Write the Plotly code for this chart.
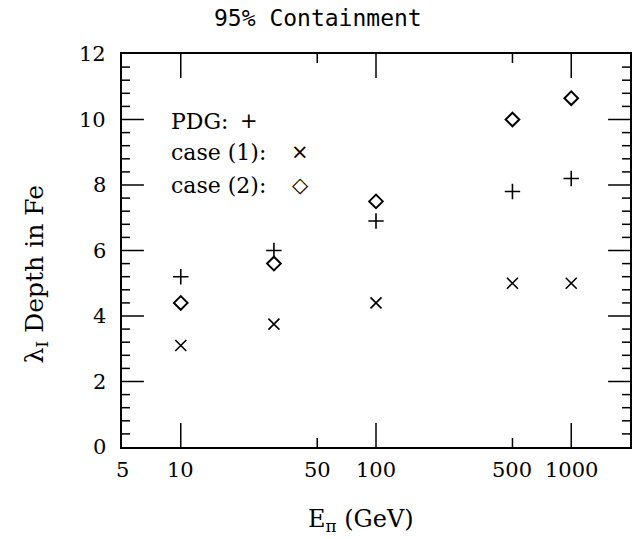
import math
import plotly.graph_objects as go

energy = [10, 30, 100, 500, 1000]
pdg = [5.2, 6.0, 6.9, 7.8, 8.2]
case1 = [3.1, 3.75, 4.4, 5.0, 5.0]
case2 = [4.4, 5.6, 7.5, 10.0, 10.65]

x_label_vals = [5, 10, 50, 100, 500, 1000]
x_label_text = ["5", "10", "50", "100", "500", "1000"]
x_major = [10, 100, 1000]
x_minor = [50, 500]
y_label_vals = [0, 2, 4, 6, 8, 10, 12]
y_minor = [round(i * 0.4, 1) for i in range(31) if i % 5 != 0]

serif = "DejaVu Serif"
x_lo, x_hi = 5, 2000
y_lo, y_hi = 0, 12
xr = [math.log10(x_lo), math.log10(x_hi)]

W, H = 633, 539
ML, MR, MT, MB = 122, 1, 54, 92
plot_w = W - ML - MR
plot_h = H - MT - MB
y_per_px = (y_hi - y_lo) / plot_h
dec_per_px = (xr[1] - xr[0]) / plot_w

fig = go.Figure()

# axis tick marks (inside, on all four sides), built from the tick value lists
tx, ty = [], []
for vals, ln in [(x_major, 24), (x_minor, 9)]:
    d = ln * y_per_px
    for v in vals:
        tx += [v, v, None, v, v, None]
        ty += [y_lo, y_lo + d, None, y_hi, y_hi - d, None]
for vals, ln in [(y_label_vals[1:-1], 22), (y_minor, 8)]:
    f = 10 ** (ln * dec_per_px)
    for v in vals:
        tx += [x_lo, x_lo * f, None, x_hi, x_hi / f, None]
        ty += [v, v, None, v, v, None]
fig.add_trace(go.Scatter(x=tx, y=ty, mode="lines", line=dict(color="black", width=1.5),
                         hoverinfo="skip", showlegend=False, connectgaps=False))

fig.add_trace(go.Scatter(x=energy, y=pdg, mode="markers",
                         marker=dict(symbol="cross-thin", size=11, color="black",
                                     line=dict(color="black", width=1.6)), showlegend=False))
fig.add_trace(go.Scatter(x=energy, y=case1, mode="markers",
                         marker=dict(symbol="x-thin", size=11, color="black",
                                     line=dict(color="black", width=1.6)), showlegend=False))
fig.add_trace(go.Scatter(x=energy, y=case2, mode="markers",
                         marker=dict(symbol="diamond-open", size=10.5, color="black",
                                     line=dict(color="black", width=2)), showlegend=False))

fig.update_layout(
    width=W, height=H,
    margin=dict(l=ML, r=MR, t=MT, b=MB),
    paper_bgcolor="white", plot_bgcolor="white",
    showlegend=False,
    xaxis=dict(type="log", range=xr, showticklabels=False, ticks="",
               showline=True, linecolor="black", linewidth=1.5, mirror=True,
               showgrid=False, zeroline=False),
    yaxis=dict(range=[y_lo, y_hi], showticklabels=False, ticks="",
               showline=True, linecolor="black", linewidth=1.5, mirror=True,
               showgrid=False, zeroline=False),
)

ann = []
for v, t in zip(x_label_vals, x_label_text):
    ann.append(dict(text=t, xref="x", yref="paper", x=math.log10(v), y=0, yshift=-23,
                    showarrow=False, xanchor="center", yanchor="middle",
                    font=dict(family=serif, size=21, color="black")))
for v in y_label_vals:
    ann.append(dict(text=str(v), xref="paper", yref="y", x=0, y=v, xshift=-14,
                    showarrow=False, xanchor="right", yanchor="middle",
                    font=dict(family=serif, size=21, color="black")))
ann.append(dict(text="95% Containment", xref="paper", yref="paper", x=0.5, y=1,
                xshift=-58, yshift=36, showarrow=False, xanchor="center", yanchor="middle",
                font=dict(family="DejaVu Sans Mono", size=23, color="black")))
ann.append(dict(text="E<sub>π</sub> (GeV)", xref="paper", yref="paper", x=0.5, y=0,
                xshift=-15, yshift=-73, showarrow=False, xanchor="center", yanchor="middle",
                font=dict(family=serif, size=24, color="black")))
ann.append(dict(text="λ<sub>I</sub> Depth in Fe", xref="paper", yref="paper", x=0, y=0.5,
                xshift=-87, yshift=-24, textangle=-90, showarrow=False, xanchor="center",
                yanchor="middle", font=dict(family=serif, size=25, color="black")))
legend_names = ["PDG:", "case (1):", "case (2):"]
legend_symbols = ["+", "×", "◇"]
legend_rows = [9.95, 9.0, 8.0]
legend_sym_shift = [127, 178, 178]
for name, sym, yy, sx in zip(legend_names, legend_symbols, legend_rows, legend_sym_shift):
    ann.append(dict(text=name, xref="paper", yref="y", x=0, y=yy, xshift=47,
                    showarrow=False, xanchor="left", yanchor="middle",
                    font=dict(family=serif, size=22, color="black")))
    ann.append(dict(text=sym, xref="paper", yref="y", x=0, y=yy, xshift=sx,
                    showarrow=False, xanchor="center", yanchor="middle",
                    font=dict(family="DejaVu Sans", size=21, color="black")))
fig.update_layout(annotations=ann)

fig.write_html("out.html")
